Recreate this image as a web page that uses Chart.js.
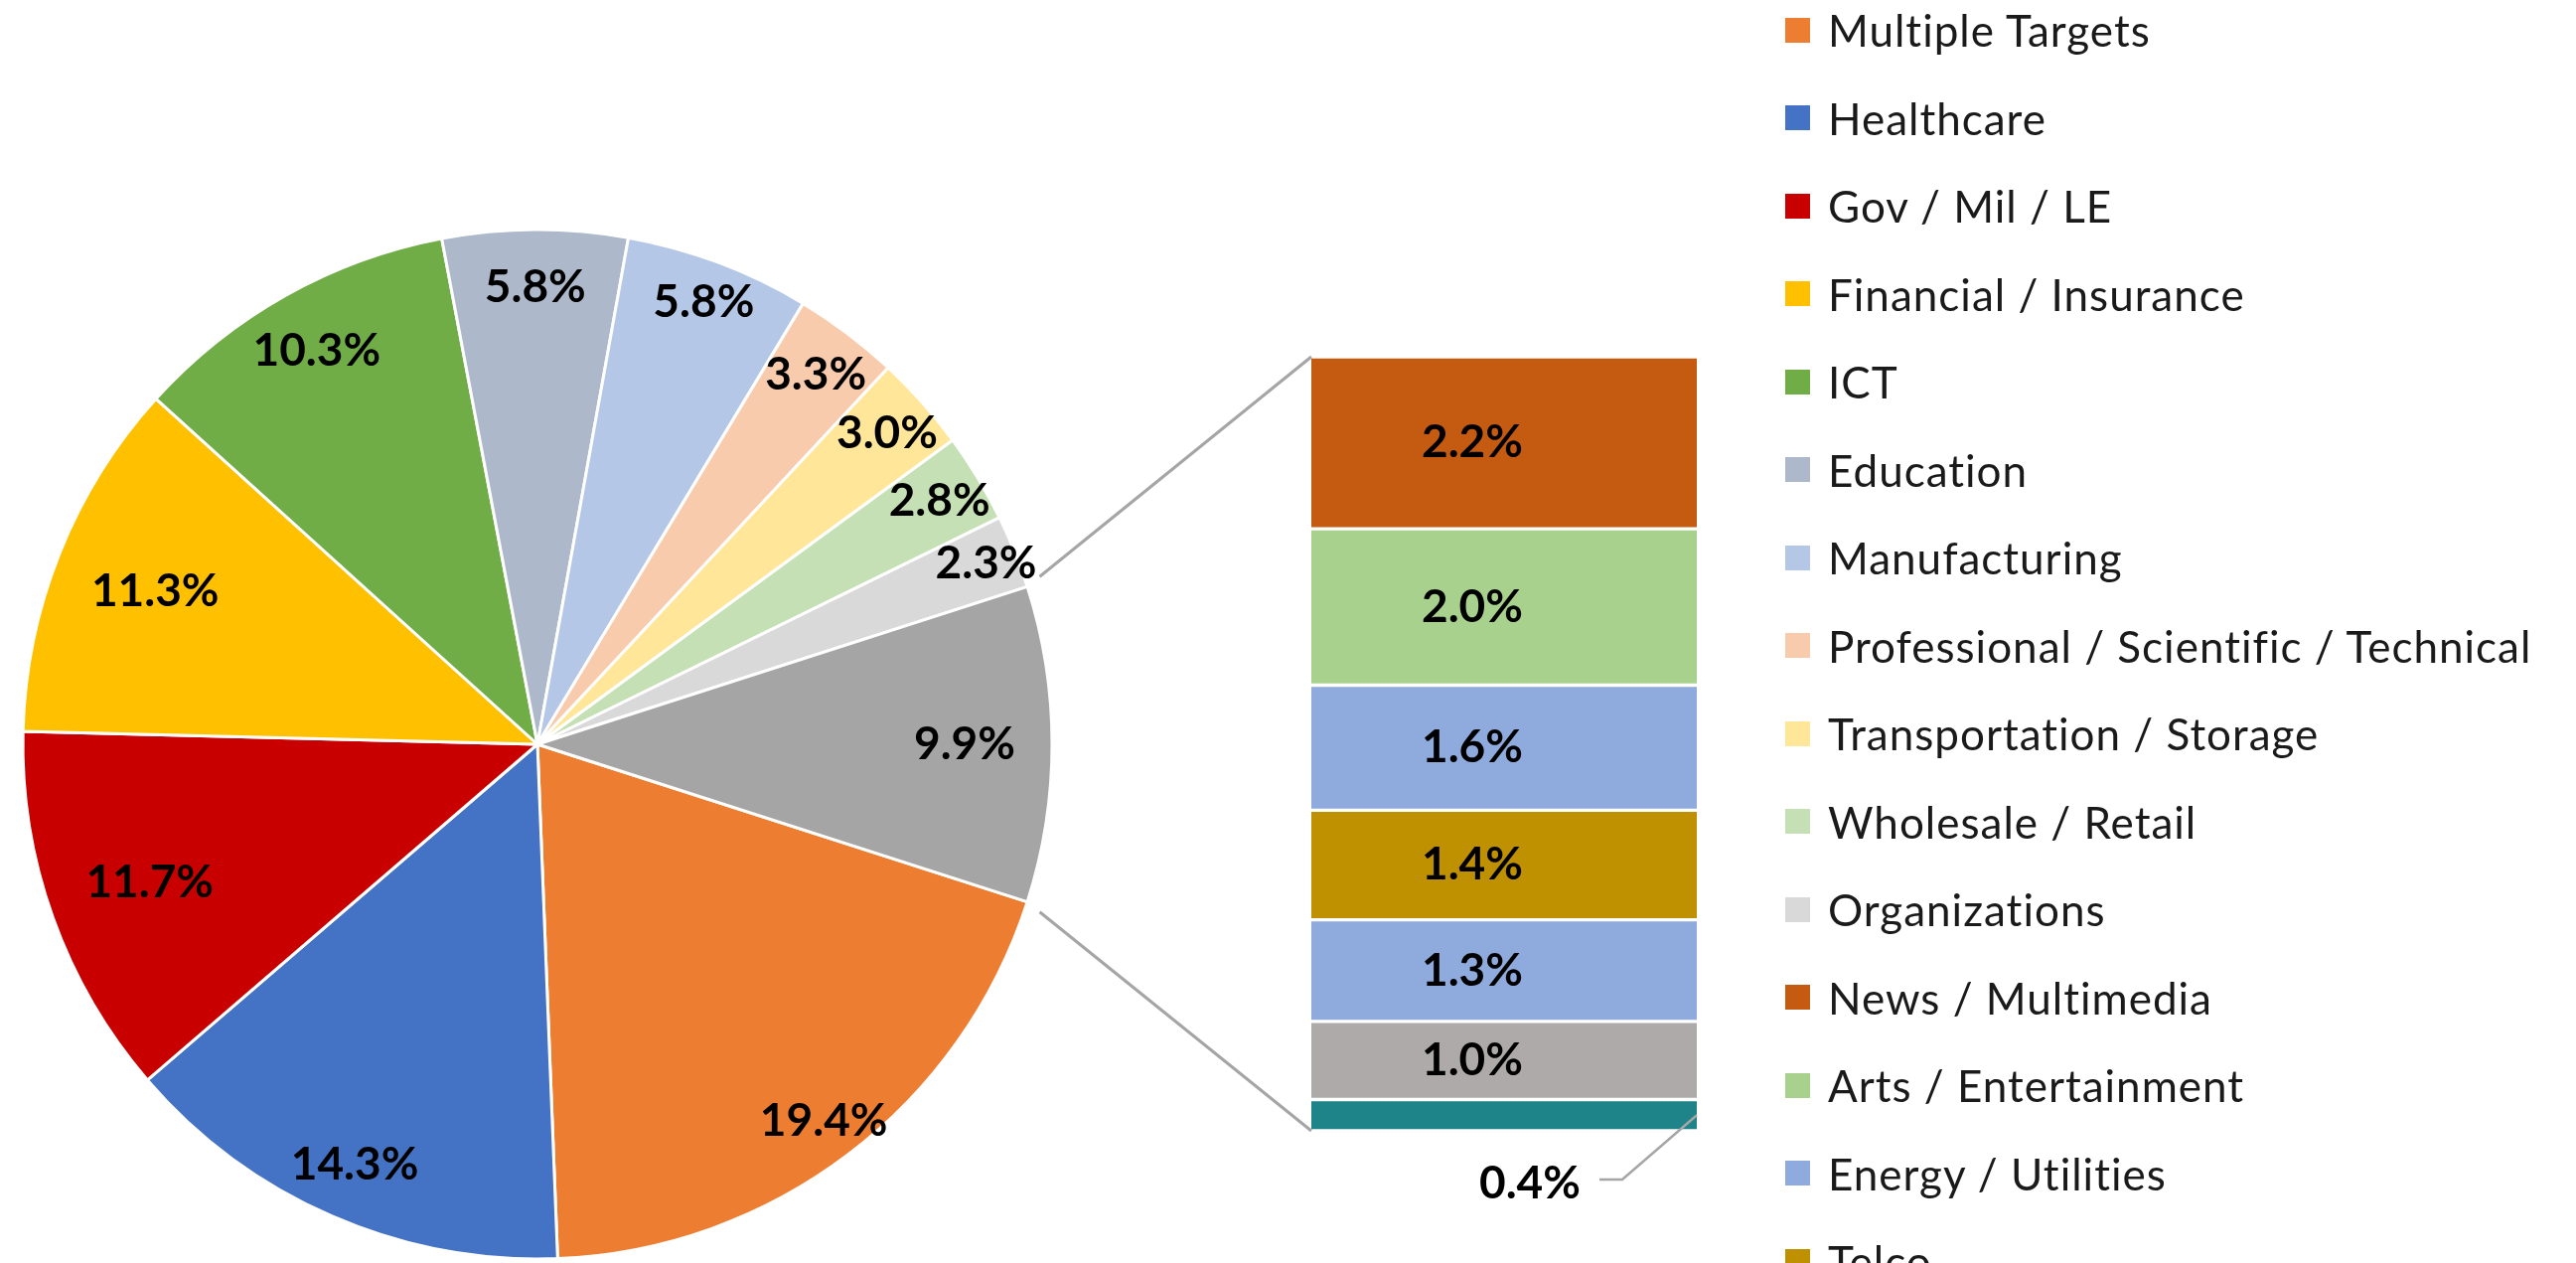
<!DOCTYPE html>
<html>
<head>
<meta charset="utf-8">
<title>Targets by sector</title>
<script src="https://cdn.jsdelivr.net/npm/chart.js@4.4.0/dist/chart.umd.min.js"></script>
<style>
  html, body { margin: 0; padding: 0; background: #fff; overflow: hidden; }
  #wrap { position: relative; width: 2593px; height: 1271px; overflow: hidden; }
  #wrap canvas { position: absolute; left: 0; top: 0; }
  #legend { position: absolute; left: 1797px; top: 0; font-family: Lato, 'Open Sans', sans-serif; font-size: 44px; letter-spacing: 1px; color: #1a1a1a; }
  .item { position: absolute; left: 0; height: 60px; display: flex; align-items: center; white-space: nowrap; }
  .swatch { width: 25px; height: 25px; margin-right: 18px; flex: none; }
</style>
</head>
<body>
<div id="wrap">
  <canvas id="pieChart" width="2593" height="1271"></canvas>
  <canvas id="barChart" width="2593" height="1271"></canvas>
  <div id="legend"></div>
</div>
<script>
// Sectores da pizza principal (sentido horario a partir de "Multiple Targets")
const pieLabels = ['Multiple Targets', 'Healthcare', 'Gov / Mil / LE', 'Financial / Insurance', 'ICT',
  'Education', 'Manufacturing', 'Professional / Scientific / Technical', 'Transportation / Storage',
  'Wholesale / Retail', 'Organizations'];
const pieValues = [19.4, 14.3, 11.7, 11.3, 10.3, 5.8, 5.8, 3.3, 3.0, 2.8, 2.3];
const pieColors = ['#ED7D31', '#4472C4', '#C80000', '#FFC000', '#70AD47', '#ADB9CA', '#B4C7E7',
  '#F8CBAD', '#FFE699', '#C5E0B4', '#D9D9D9'];

// Fatia "outros" que e detalhada na barra
const otherLabel = 'Other';
const otherValue = 9.9;
const otherColor = '#A5A5A5';

// Segmentos da barra (de cima para baixo)
const barLabels = ['News / Multimedia', 'Arts / Entertainment', 'Energy / Utilities', 'Telco',
  'Hospitality', 'Construction', 'Mining'];
const barValues = [2.2, 2.0, 1.6, 1.4, 1.3, 1.0, 0.4];
const barColors = ['#C55A11', '#A9D18E', '#8FAADC', '#BF9000', '#8FAADC', '#AEAAAA', '#1E8489'];

// Distancia relativa dos rotulos ao centro da pizza
const labelRadius = [0.92, 0.89, 0.80, 0.80, 0.877, 0.888, 0.917, 0.898, 0.909, 0.913, 0.94, 0.83];

const labelFont = 'bold 46px Lato, "Open Sans", sans-serif';
const lineColor = '#A5A5A5';

function fmtPct(v) {
  return v.toFixed(1) + '%';
}

const allPieValues = pieValues.concat([otherValue]);
const pieTotal = allPieValues.reduce((a, b) => a + b, 0);
// Centralizar a fatia "outros" na horizontal, do lado direito
const rotation = 90 + (otherValue / pieTotal) * 360 / 2;

/**
 * Rotulos de porcentagem dentro das fatias
 */
const pieLabelPlugin = {
  id: 'pieLabels',
  afterDatasetsDraw(chart) {
    const ctx = chart.ctx;
    const meta = chart.getDatasetMeta(0);
    ctx.save();
    ctx.font = labelFont;
    ctx.fillStyle = '#000';
    ctx.textAlign = 'center';
    ctx.textBaseline = 'middle';
    meta.data.forEach((arc, i) => {
      const mid = (arc.startAngle + arc.endAngle) / 2;
      const r = arc.outerRadius * labelRadius[i];
      ctx.fillText(fmtPct(allPieValues[i]), arc.x + Math.cos(mid) * r, arc.y + Math.sin(mid) * r);
    });
    ctx.restore();
  }
};

const pieChart = new Chart(document.getElementById('pieChart'), {
  type: 'pie',
  data: {
    labels: pieLabels.concat([otherLabel]),
    datasets: [{
      data: allPieValues,
      backgroundColor: pieColors.concat([otherColor]),
      borderColor: '#fff',
      borderWidth: 3
    }]
  },
  options: {
    responsive: false,
    animation: false,
    rotation: rotation,
    radius: 518,
    layout: { padding: { left: 23, top: 231, right: 1534, bottom: 4 } },
    plugins: {
      legend: { display: false },
      tooltip: { enabled: false }
    }
  },
  plugins: [pieLabelPlugin]
});

// Linha entre a borda da pizza e um canto da barra, com pequeno afastamento
function seriesLine(ctx, x0, y0, x1, y1, gap) {
  const len = Math.hypot(x1 - x0, y1 - y0);
  ctx.moveTo(x0 + (x1 - x0) * gap / len, y0 + (y1 - y0) * gap / len);
  ctx.lineTo(x1, y1);
}

/**
 * Rotulos da barra, linhas de ligacao com a pizza
 */
const barExtrasPlugin = {
  id: 'barExtras',
  afterDatasetsDraw(chart) {
    const ctx = chart.ctx;
    const area = chart.chartArea;

    // Linhas de ligacao entre a fatia "outros" e a barra
    const otherArc = pieChart.getDatasetMeta(0).data[pieLabels.length];
    const r = otherArc.outerRadius;
    ctx.save();
    ctx.strokeStyle = lineColor;
    ctx.lineWidth = 3;
    ctx.beginPath();
    seriesLine(ctx, otherArc.x + Math.cos(otherArc.startAngle) * r, otherArc.y + Math.sin(otherArc.startAngle) * r,
      area.left, area.top, 16);
    seriesLine(ctx, otherArc.x + Math.cos(otherArc.endAngle) * r, otherArc.y + Math.sin(otherArc.endAngle) * r,
      area.left, area.bottom, 16);
    ctx.stroke();

    // Rotulos dos segmentos
    ctx.font = labelFont;
    ctx.fillStyle = '#000';
    ctx.textAlign = 'center';
    ctx.textBaseline = 'middle';
    barValues.forEach((v, i) => {
      const el = chart.getDatasetMeta(i).data[0];
      const top = Math.min(el.y, el.base);
      const bottom = Math.max(el.y, el.base);
      if (bottom - top > 50) {
        ctx.fillText(fmtPct(v), el.x - 32, (top + bottom) / 2);
      } else {
        // Segmento pequeno: rotulo abaixo, com linha guia
        const right = el.x + el.width / 2;
        ctx.fillText(fmtPct(v), right - 168, bottom + 53);
        ctx.lineWidth = 2.5;
        ctx.beginPath();
        ctx.moveTo(right - 98, bottom + 49);
        ctx.lineTo(right - 75, bottom + 49);
        ctx.lineTo(right, (top + bottom) / 2);
        ctx.stroke();
      }
    });
    ctx.restore();
  }
};

const barTotal = barValues.reduce((a, b) => a + b, 0);

const barChart = new Chart(document.getElementById('barChart'), {
  type: 'bar',
  data: {
    labels: [otherLabel],
    datasets: barLabels.map((label, i) => ({
      label: label,
      data: [barValues[i]],
      backgroundColor: barColors[i],
      borderColor: '#fff',
      borderWidth: { top: 2, bottom: 2, left: 0, right: 0 },
      borderSkipped: false,
      barPercentage: 1,
      categoryPercentage: 1
    }))
  },
  options: {
    responsive: false,
    animation: false,
    layout: { padding: { left: 1320, right: 885, top: 359, bottom: 133 } },
    plugins: {
      legend: { display: false },
      tooltip: { enabled: false }
    },
    scales: {
      x: { stacked: true, display: false },
      y: { stacked: true, display: false, reverse: true, min: 0, max: barTotal }
    }
  },
  plugins: [barExtrasPlugin]
});

// Legenda montada a partir dos mesmos arrays
const legendEl = document.getElementById('legend');
const legendLabels = pieLabels.concat(barLabels);
const legendColors = pieColors.concat(barColors);
legendLabels.forEach((label, i) => {
  const item = document.createElement('div');
  item.className = 'item';
  item.style.top = (i * 88.5) + 'px';
  item.innerHTML = `<span class="swatch" style="background:${legendColors[i]}"></span><span>${label}</span>`;
  legendEl.appendChild(item);
});
</script>
</body>
</html>
